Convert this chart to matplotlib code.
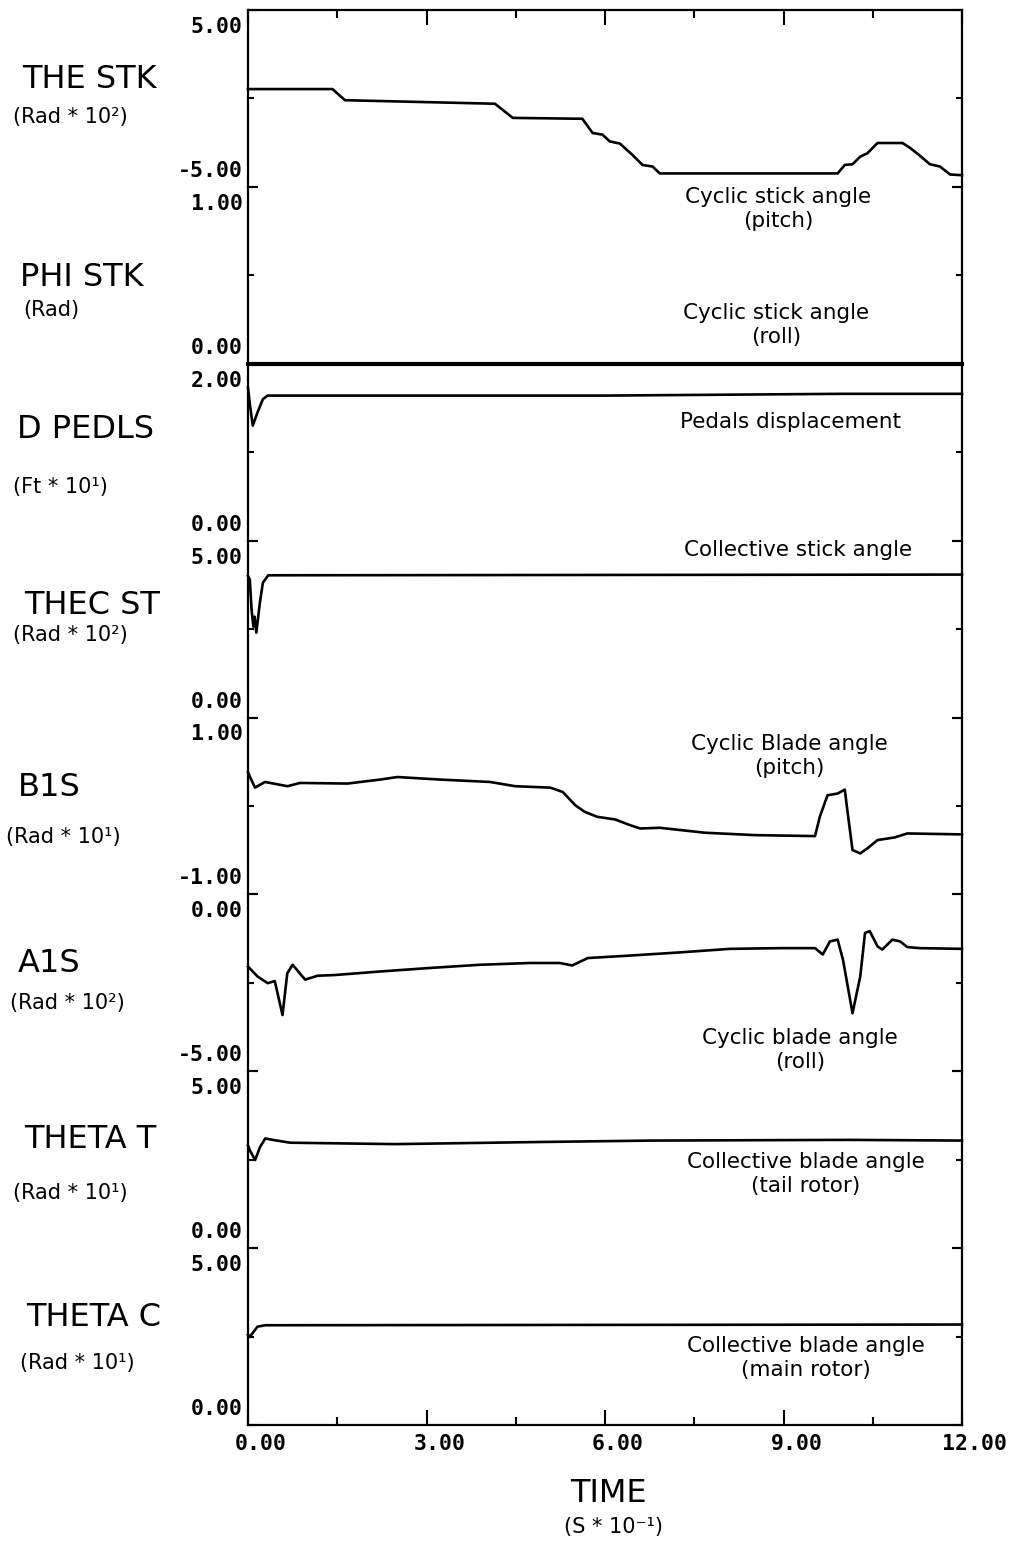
import matplotlib
matplotlib.use('Agg')
import matplotlib.pyplot as plt

# ---------------- data ----------------
time_ticks = [0, 3, 6, 9, 12]
time_minor = [1.5, 4.5, 7.5, 10.5]
time_labels = ['0.00', '3.00', '6.00', '9.00', '12.00']

names = ['THE STK', 'PHI STK', 'D PEDLS', 'THEC ST', 'B1S', 'A1S', 'THETA T', 'THETA C']
units = ['(Rad * 10²)', '(Rad)', '(Ft * 10¹)', '(Rad * 10²)', '(Rad * 10¹)',
         '(Rad * 10²)', '(Rad * 10¹)', '(Rad * 10¹)']
y_top = [5, 1, 2, 5, 1, 0, 5, 5]
y_bot = [-5, 0, 0, 0, -1, -5, 0, 0]
y_top_labels = ['5.00', '1.00', '2.00', '5.00', '1.00', '0.00', '5.00', '5.00']
y_bot_labels = ['-5.00', '0.00', '0.00', '0.00', '-1.00', '-5.00', '0.00', '0.00']

notes = [
    'Cyclic stick angle\n(pitch)',
    'Cyclic stick angle\n(roll)',
    'Pedals displacement',
    'Collective stick angle',
    'Cyclic Blade angle\n(pitch)',
    'Cyclic blade angle\n(roll)',
    'Collective blade angle\n(tail rotor)',
    'Collective blade angle\n(main rotor)',
]

the_stk_t = [0, 1.42, 1.63, 4.15, 4.45, 5.62, 5.79, 5.96, 6.08, 6.25, 6.46, 6.63,
             6.80, 6.92, 9.91, 10.03, 10.16, 10.29, 10.41, 10.58, 11.0, 11.13, 11.29,
             11.46, 11.63, 11.8, 12.0]
the_stk_v = [0.53, 0.53, -0.10, -0.30, -1.10, -1.15, -1.95, -2.05, -2.43, -2.55, -3.19,
             -3.76, -3.85, -4.24, -4.24, -3.76, -3.72, -3.29, -3.10, -2.52, -2.52, -2.80,
             -3.23, -3.72, -3.85, -4.30, -4.34]

phi_stk_t = [0, 12]
phi_stk_v = [0.0, 0.0]

d_pedls_t = [0, 0.03, 0.08, 0.16, 0.25, 0.33, 6.0, 10.0, 12.0]
d_pedls_v = [1.73, 1.55, 1.30, 1.45, 1.60, 1.64, 1.64, 1.66, 1.66]

thec_st_t = [0, 0.03, 0.06, 0.09, 0.11, 0.14, 0.20, 0.25, 0.34, 12.0]
thec_st_v = [4.0, 3.9, 3.05, 2.57, 2.85, 2.4, 3.25, 3.81, 4.02, 4.04]

b1s_t = [0.0, 0.034, 0.118, 0.286, 0.664, 0.874, 1.67, 2.22, 2.51, 3.23, 4.07, 4.49,
         5.08, 5.29, 5.50, 5.66, 5.87, 6.17, 6.42, 6.59, 6.92, 7.68, 8.52, 9.53, 9.61,
         9.74, 9.91, 10.03, 10.08, 10.16, 10.29, 10.41, 10.58, 10.87, 11.08, 12.0]
b1s_v = [0.38, 0.327, 0.207, 0.271, 0.223, 0.260, 0.253, 0.298, 0.327, 0.298, 0.271,
         0.223, 0.207, 0.158, 0.008, -0.067, -0.123, -0.153, -0.217, -0.255, -0.247,
         -0.303, -0.330, -0.341, -0.123, 0.121, 0.140, 0.185, -0.086, -0.499, -0.537,
         -0.480, -0.386, -0.356, -0.311, -0.322]

a1s_t = [0.0, 0.16, 0.33, 0.45, 0.58, 0.66, 0.75, 0.96, 1.17, 1.46, 2.22, 3.06, 3.90,
         4.74, 5.24, 5.45, 5.71, 6.42, 7.26, 8.10, 8.94, 9.53, 9.66, 9.78, 9.91, 10.0,
         10.16, 10.29, 10.37, 10.45, 10.58, 10.66, 10.83, 10.96, 11.08, 11.29, 12.0]
a1s_v = [-2.04, -2.32, -2.51, -2.45, -3.41, -2.23, -1.99, -2.41, -2.30, -2.28, -2.18,
         -2.08, -1.99, -1.94, -1.94, -2.01, -1.80, -1.73, -1.64, -1.54, -1.52, -1.52,
         -1.70, -1.33, -1.28, -1.85, -3.36, -2.32, -1.09, -1.04, -1.47, -1.56, -1.28,
         -1.33, -1.49, -1.52, -1.54]

theta_t_t = [0, 0.03, 0.12, 0.20, 0.29, 0.45, 0.71, 2.47, 4.9, 6.76, 10.1, 12.0]
theta_t_v = [2.9, 2.77, 2.49, 2.85, 3.10, 3.05, 2.98, 2.94, 3.00, 3.04, 3.06, 3.04]

theta_c_t = [0, 0.03, 0.16, 0.29, 12.0]
theta_c_v = [2.55, 2.49, 2.78, 2.82, 2.84]

series_t = [the_stk_t, phi_stk_t, d_pedls_t, thec_st_t, b1s_t, a1s_t, theta_t_t, theta_c_t]
series_v = [the_stk_v, phi_stk_v, d_pedls_v, thec_st_v, b1s_v, a1s_v, theta_t_v, theta_c_v]

# ---------------- layout ----------------
W, H, DPI = 1015, 1551, 100
fig = plt.figure(figsize=(W / DPI, H / DPI), dpi=DPI)
fig.patch.set_facecolor('white')

left_px, right_px = 248, 962
top_px, bot_px = 10, 1425
n = 8
ph = (bot_px - top_px) / n

name_y = [80, 277, 430, 605, 788, 963, 1140, 1317]
name_x = [22, 20, 17, 24, 18, 18, 24, 26]
unit_y = [117, 310, 487, 635, 837, 1003, 1193, 1363]
unit_x = [13, 23, 13, 13, 6, 10, 13, 20]
note_xy = [(778, 209), (776, 325), (790, 422), (798, 550), (789, 756), (800, 1050),
           (806, 1174), (806, 1358)]

num_family = 'DejaVu Sans Mono'
num_size = 15.5
pt_per_px = 72 / DPI

axes = []
for i in range(n):
    ytop = top_px + i * ph
    ax = fig.add_axes([left_px / W, 1 - (ytop + ph) / H, (right_px - left_px) / W, ph / H])
    ax.patch.set_visible(False)
    ax.plot(series_t[i], series_v[i], color='black', lw=1.9 if i != 1 else 3.0,
            clip_on=False, solid_joinstyle='round', zorder=5)
    ax.set_xlim(0, 12)
    ax.set_ylim(y_bot[i], y_top[i])
    for s in ['left', 'right', 'top', 'bottom']:
        ax.spines[s].set_linewidth(1.6)
    ax.spines['top'].set_visible(i == 0)
    ax.spines['bottom'].set_visible(i == n - 1)

    ax.set_yticks([y_bot[i], y_top[i]])
    ax.set_yticks([(y_bot[i] + y_top[i]) / 2], minor=True)
    ax.tick_params(axis='y', which='both', direction='in', left=True, right=True,
                   labelleft=False, labelright=False, width=1.5)
    ax.tick_params(axis='y', which='major', length=10 * pt_per_px)
    ax.tick_params(axis='y', which='minor', length=6 * pt_per_px)

    ax.set_xticks(time_ticks)
    ax.set_xticks(time_minor, minor=True)
    ax.tick_params(axis='x', which='both', direction='in', bottom=(i == n - 1),
                   top=(i == 0), labelbottom=False, labeltop=False, width=1.5)
    ax.tick_params(axis='x', which='major', length=15 * pt_per_px)
    ax.tick_params(axis='x', which='minor', length=8 * pt_per_px)

    ax.annotate(y_top_labels[i], xy=(0, 1), xycoords='axes fraction', xytext=(-5, -17),
                textcoords='offset pixels', ha='right', va='center',
                fontfamily=num_family, fontweight='bold', fontsize=num_size)
    ax.annotate(y_bot_labels[i], xy=(0, 0), xycoords='axes fraction', xytext=(-5, 16),
                textcoords='offset pixels', ha='right', va='center',
                fontfamily=num_family, fontweight='bold', fontsize=num_size)
    axes.append(ax)

    fig.text(name_x[i] / W, 1 - name_y[i] / H, names[i], ha='left', va='center',
             fontsize=23, family='DejaVu Sans')
    fig.text(unit_x[i] / W, 1 - unit_y[i] / H, units[i], ha='left', va='center',
             fontsize=15, family='DejaVu Sans')
    nx, ny = note_xy[i]
    fig.text(nx / W, 1 - ny / H, notes[i], ha='center', va='center', fontsize=15.5,
             family='DejaVu Sans', linespacing=1.25)

axb = axes[-1]
for t, lbl in zip(time_ticks, time_labels):
    axb.annotate(lbl, xy=(t, 0), xycoords=('data', 'axes fraction'), xytext=(13, -19),
                 textcoords='offset pixels', ha='center', va='center',
                 fontfamily=num_family, fontweight='bold', fontsize=num_size)

fig.text(608 / W, 1 - 1493 / H, 'TIME', ha='center', va='center', fontsize=23,
         family='DejaVu Sans')
fig.text(614 / W, 1 - 1527 / H, '(S * 10⁻¹)', ha='center', va='center', fontsize=15,
         family='DejaVu Sans')

fig.savefig('out.png', dpi=DPI, facecolor='white')
